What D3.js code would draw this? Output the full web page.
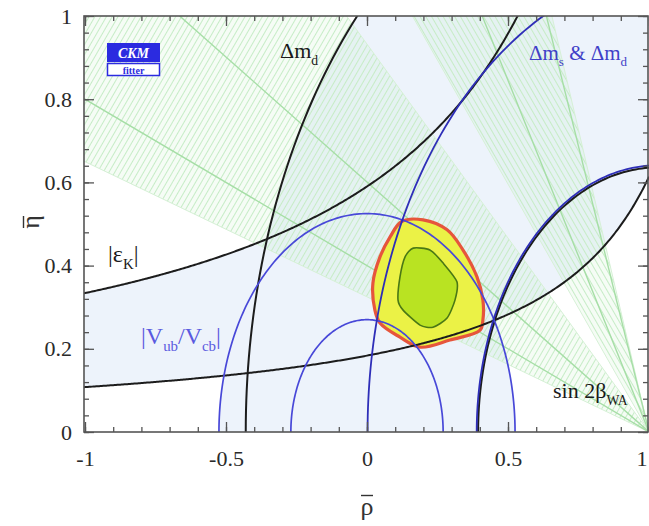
<!DOCTYPE html>
<html>
<head>
<meta charset="utf-8">
<script src="https://cdn.jsdelivr.net/npm/d3@7"></script>
<style>
  html, body { margin: 0; padding: 0; background: #fff; }
  svg { display: block; }
  text { font-family: "Liberation Serif", "DejaVu Serif", serif; }
</style>
</head>
<body>
<svg id="chart" width="649" height="526"></svg>
<script>
// ---- constraint data in the (rho-bar, eta-bar) plane ----
// Delta m_d band edges: circles centred on the rho axis
const dmdCenters = [1.033, 1.03];
const dmdRadii   = [1.463, 0.636];
// Delta m_s & Delta m_d band edges
const dmsCenters = [1.116, 1.03];
const dmsRadii   = [1.114, 0.641];
// |Vub/Vcb| band edges: circles around the origin
const vubRadii = [0.27, 0.525];
// |epsilon_K| band edges: hyperbolas eta = b / (a - rho)
const epsA = [1.427, 1.303];
const epsB = [0.262, 0.769];
// sin 2beta (world average): hatched wedges from the apex (1,0), angle beta in degrees
const betaBandLo = [18, 50];
const betaBandHi = [43, 71];
const betaLines  = [21.8, 31, 59.4, 70];
// global fit confidence regions
const cl95Rho = [0.123,0.199,0.284,0.340,0.390,0.411,0.411,0.401,0.294,0.188,0.117,0.046,0.028,0.021,0.046,0.082];
const cl95Eta = [0.506,0.510,0.486,0.438,0.373,0.317,0.269,0.245,0.221,0.204,0.228,0.262,0.293,0.358,0.421,0.469];
const cl68Rho = [0.164,0.223,0.270,0.319,0.312,0.284,0.234,0.188,0.128,0.110,0.117,0.135];
const cl68Eta = [0.442,0.4375,0.406,0.361,0.317,0.274,0.252,0.257,0.293,0.317,0.373,0.421];
// axes
const xTicks = [-1, -0.5, 0, 0.5, 1];
const yTicks = [0, 0.2, 0.4, 0.6, 0.8, 1];
const xMinor = d3.range(-10, 11).map(i => i / 10);
const yMinor = d3.range(0, 26).map(i => i / 25);

const svg = d3.select("#chart");
const x = d3.scaleLinear().domain([-1, 1]).range([85, 649]);
const y = d3.scaleLinear().domain([0, 1]).range([432, 16]);
const X0 = x(-1) - 1, X1 = x(1), Y0 = y(1), Y1 = y(0);

const BLUE_FILL = "#edf3fb";
const defs = svg.append("defs");
defs.append("clipPath").attr("id", "plot")
  .append("rect").attr("x", X0).attr("y", Y0).attr("width", X1 - X0).attr("height", Y1 - Y0);

function hatch(id, angle) {
  const p = defs.append("pattern").attr("id", id)
    .attr("patternUnits", "userSpaceOnUse").attr("width", 5).attr("height", 5)
    .attr("patternTransform", `rotate(${angle})`);
  p.append("rect").attr("width", 5).attr("height", 5).attr("fill", "rgba(180,232,180,0.13)");
  p.append("line").attr("x1", 0.5).attr("y1", 0).attr("x2", 0.5).attr("y2", 5)
    .attr("stroke", "#c6ecc6").attr("stroke-width", 1);
}
hatch("hatchA", 30);
hatch("hatchB", -30);

const line = d3.line().x(d => x(d[0])).y(d => y(d[1]));
const closed = d3.line().x(d => x(d[0])).y(d => y(d[1])).curve(d3.curveLinearClosed);

const circle = (c, r) => d3.range(0, 361).map(i => {
  const t = i * Math.PI / 180;
  return [c + r * Math.cos(t), r * Math.sin(t)];
});
const upperArc = (c, r) => d3.range(0, 181).map(i => {
  const t = i * Math.PI / 180;
  return [c + r * Math.cos(t), r * Math.sin(t)];
});
const hyper = (a, b) => d3.range(-1.05, 1.0001, 0.005).map(r => [r, b / (a - r)]);

const g = svg.append("g").attr("clip-path", "url(#plot)");

// ---- band fills ----
const annulus = (c0, r0, c1, r1) => closed(circle(c0, r0)) + closed(circle(c1, r1));
g.append("path").attr("d", annulus(dmdCenters[0], dmdRadii[0], dmdCenters[1], dmdRadii[1]))
  .attr("fill", BLUE_FILL).attr("fill-rule", "evenodd");
g.append("path").attr("d", annulus(dmsCenters[0], dmsRadii[0], dmsCenters[1], dmsRadii[1]))
  .attr("fill", BLUE_FILL).attr("fill-rule", "evenodd");
g.append("path").attr("d", annulus(0, vubRadii[1], 0, vubRadii[0]))
  .attr("fill", BLUE_FILL).attr("fill-rule", "evenodd");
const epsLo = hyper(epsA[0], epsB[0]), epsHi = hyper(epsA[1], epsB[1]);
g.append("path").attr("d", closed(epsLo.concat(epsHi.slice().reverse())))
  .attr("fill", BLUE_FILL);

// ---- sin 2beta wedges ----
const ray = (deg, L) => [1 - L * Math.cos(deg * Math.PI / 180), L * Math.sin(deg * Math.PI / 180)];
betaBandLo.forEach((lo, i) => {
  g.append("path").attr("d", closed([[1, 0], ray(lo, 4), ray(betaBandHi[i], 4)]))
    .attr("fill", i === 0 ? "url(#hatchA)" : "url(#hatchB)");
});
betaBandLo.concat(betaBandHi).forEach(b => {
  g.append("path").attr("d", line([[1, 0], ray(b, 4)]))
    .attr("stroke", "#d6f0d6").attr("stroke-width", 1).attr("fill", "none");
});
betaLines.forEach(b => {
  g.append("path").attr("d", line([[1, 0], ray(b, 4)]))
    .attr("stroke", "#a6dea6").attr("stroke-width", 1.4).attr("fill", "none");
});

// ---- confidence regions ----
const blob = d3.line().x((d) => x(d[0])).y(d => y(d[1])).curve(d3.curveCatmullRomClosed.alpha(0.5));
const cl95 = cl95Rho.map((r, i) => [r, cl95Eta[i]]);
const cl68 = cl68Rho.map((r, i) => [r, cl68Eta[i]]);
g.append("path").attr("d", blob(cl95)).attr("fill", "#ebf246")
  .attr("stroke", "#e6553c").attr("stroke-width", 3.2).attr("stroke-linejoin", "round");

// ---- constraint boundaries ----
const curves = g.append("g").attr("fill", "none");
dmdRadii.forEach((r, i) => curves.append("path").attr("d", line(upperArc(dmdCenters[i], r)))
  .attr("stroke", "#1c1c1c").attr("stroke-width", 2));
curves.append("path").attr("d", line(epsLo)).attr("stroke", "#1c1c1c").attr("stroke-width", 2);
curves.append("path").attr("d", line(epsHi)).attr("stroke", "#1c1c1c").attr("stroke-width", 2);
vubRadii.forEach(r => curves.append("path").attr("d", line(upperArc(0, r)))
  .attr("stroke", "#4848d8").attr("stroke-width", 1.7));
dmsRadii.forEach((r, i) => curves.append("path").attr("d", line(upperArc(dmsCenters[i], r)))
  .attr("stroke", "#2e2eb8").attr("stroke-width", 1.8));

g.append("path").attr("d", d3.line().x(d => x(d[0])).y(d => y(d[1]))
    .curve(d3.curveCardinalClosed.tension(0.3))(cl68))
  .attr("fill", "#b9e322").attr("stroke", "#4a7815").attr("stroke-width", 1.6);

// ---- axes ----
const fmt = d => String(d);
function styleAxis(sel) {
  sel.select(".domain").remove();
  sel.selectAll("line").attr("stroke", "#555").attr("stroke-width", 1.3);
  sel.selectAll("text").attr("font-family", "Liberation Serif").attr("font-size", 22).attr("fill", "#2a2a2a");
}
const xAxis = svg.append("g").attr("transform", `translate(0,${Y1})`)
  .call(d3.axisBottom(x).tickValues(xTicks).tickSize(-10).tickSizeOuter(0).tickPadding(18).tickFormat(fmt)).call(styleAxis);
// the last label sits against the right border of the page
xAxis.selectAll(".tick text").filter(d => d === 1).attr("text-anchor", "end").attr("dx", -2);
svg.append("g").attr("transform", `translate(0,${Y1})`)
  .call(d3.axisBottom(x).tickValues(xMinor).tickSize(-5).tickFormat("")).call(styleAxis);
svg.append("g").attr("transform", `translate(0,${Y0})`)
  .call(d3.axisTop(x).tickValues(xTicks).tickSize(-10).tickFormat("")).call(styleAxis);
svg.append("g").attr("transform", `translate(0,${Y0})`)
  .call(d3.axisTop(x).tickValues(xMinor).tickSize(-5).tickFormat("")).call(styleAxis);
svg.append("g").attr("transform", `translate(${X0},0)`)
  .call(d3.axisLeft(y).tickValues(yTicks).tickSize(-10).tickPadding(12).tickFormat(fmt)).call(styleAxis);
svg.append("g").attr("transform", `translate(${X0},0)`)
  .call(d3.axisLeft(y).tickValues(yMinor).tickSize(-5).tickFormat("")).call(styleAxis);
svg.append("g").attr("transform", `translate(${X1 - 1},0)`)
  .call(d3.axisRight(y).tickValues(yTicks).tickSize(-10).tickFormat("")).call(styleAxis);
svg.append("g").attr("transform", `translate(${X1 - 1},0)`)
  .call(d3.axisRight(y).tickValues(yMinor).tickSize(-5).tickFormat("")).call(styleAxis);

svg.append("rect").attr("x", X0).attr("y", Y0).attr("width", X1 - X0 - 1).attr("height", Y1 - Y0)
  .attr("fill", "none").attr("stroke", "#555").attr("stroke-width", 1.6);

// ---- axis titles (barred symbols) ----
const rhoX = x(0);
svg.append("text").attr("x", rhoX).attr("y", 515).attr("text-anchor", "middle")
  .attr("font-size", 26).attr("fill", "#333").text("ρ");
svg.append("line").attr("x1", rhoX - 6).attr("x2", rhoX + 6).attr("y1", 495.5).attr("y2", 495.5)
  .attr("stroke", "#333").attr("stroke-width", 1.4);
svg.append("text").attr("transform", "translate(39,222) rotate(-90)").attr("text-anchor", "middle")
  .attr("font-size", 26).attr("fill", "#333").text("η");
svg.append("line").attr("x1", 23.5).attr("x2", 23.5).attr("y1", 216).attr("y2", 228)
  .attr("stroke", "#333").attr("stroke-width", 1.4);

// ---- labels ----
function label(xp, yp, parts, color, size) {
  const t = svg.append("text").attr("x", xp).attr("y", yp).attr("font-size", size).attr("fill", color);
  parts.forEach(p => {
    const s = t.append("tspan").text(p[0]);
    if (p[1] === "sub") s.attr("font-size", size * 0.62).attr("dy", size * 0.3);
    else if (p[1] === "up") s.attr("dy", -size * 0.3);
  });
}
label(280, 58, [["Δm"], ["d", "sub"]], "#1a1a1a", 22);
label(529, 60, [["Δm"], ["s", "sub"], [" & Δm", "up"], ["d", "sub"]], "#4040c8", 21);
label(108, 262, [["|ε"], ["K", "sub"], ["|", "up"]], "#1a1a1a", 24);
label(141, 344, [["|V"], ["ub", "sub"], ["/V", "up"], ["cb", "sub"], ["|", "up"]], "#5a5ae0", 24);
label(553, 398, [["sin 2β"], ["WA", "sub"]], "#1a1a1a", 22);

// ---- group logo ----
const logo = svg.append("g");
logo.append("rect").attr("x", 107).attr("y", 43).attr("width", 53).attr("height", 19).attr("fill", "#2b2be0");
logo.append("text").attr("x", 133.5).attr("y", 58).attr("text-anchor", "middle")
  .attr("font-family", "Liberation Sans").attr("font-style", "italic").attr("font-weight", "bold")
  .attr("font-size", 14).attr("fill", "#fff").text("CKM");
logo.append("rect").attr("x", 107.5).attr("y", 63.5).attr("width", 52).attr("height", 12)
  .attr("fill", "#fff").attr("stroke", "#2b2be0").attr("stroke-width", 1.5);
logo.append("text").attr("x", 133.5).attr("y", 73.5).attr("text-anchor", "middle")
  .attr("font-family", "Liberation Sans").attr("font-weight", "bold")
  .attr("font-size", 10).attr("fill", "#2b2be0").text("fitter");
</script>
</body>
</html>
